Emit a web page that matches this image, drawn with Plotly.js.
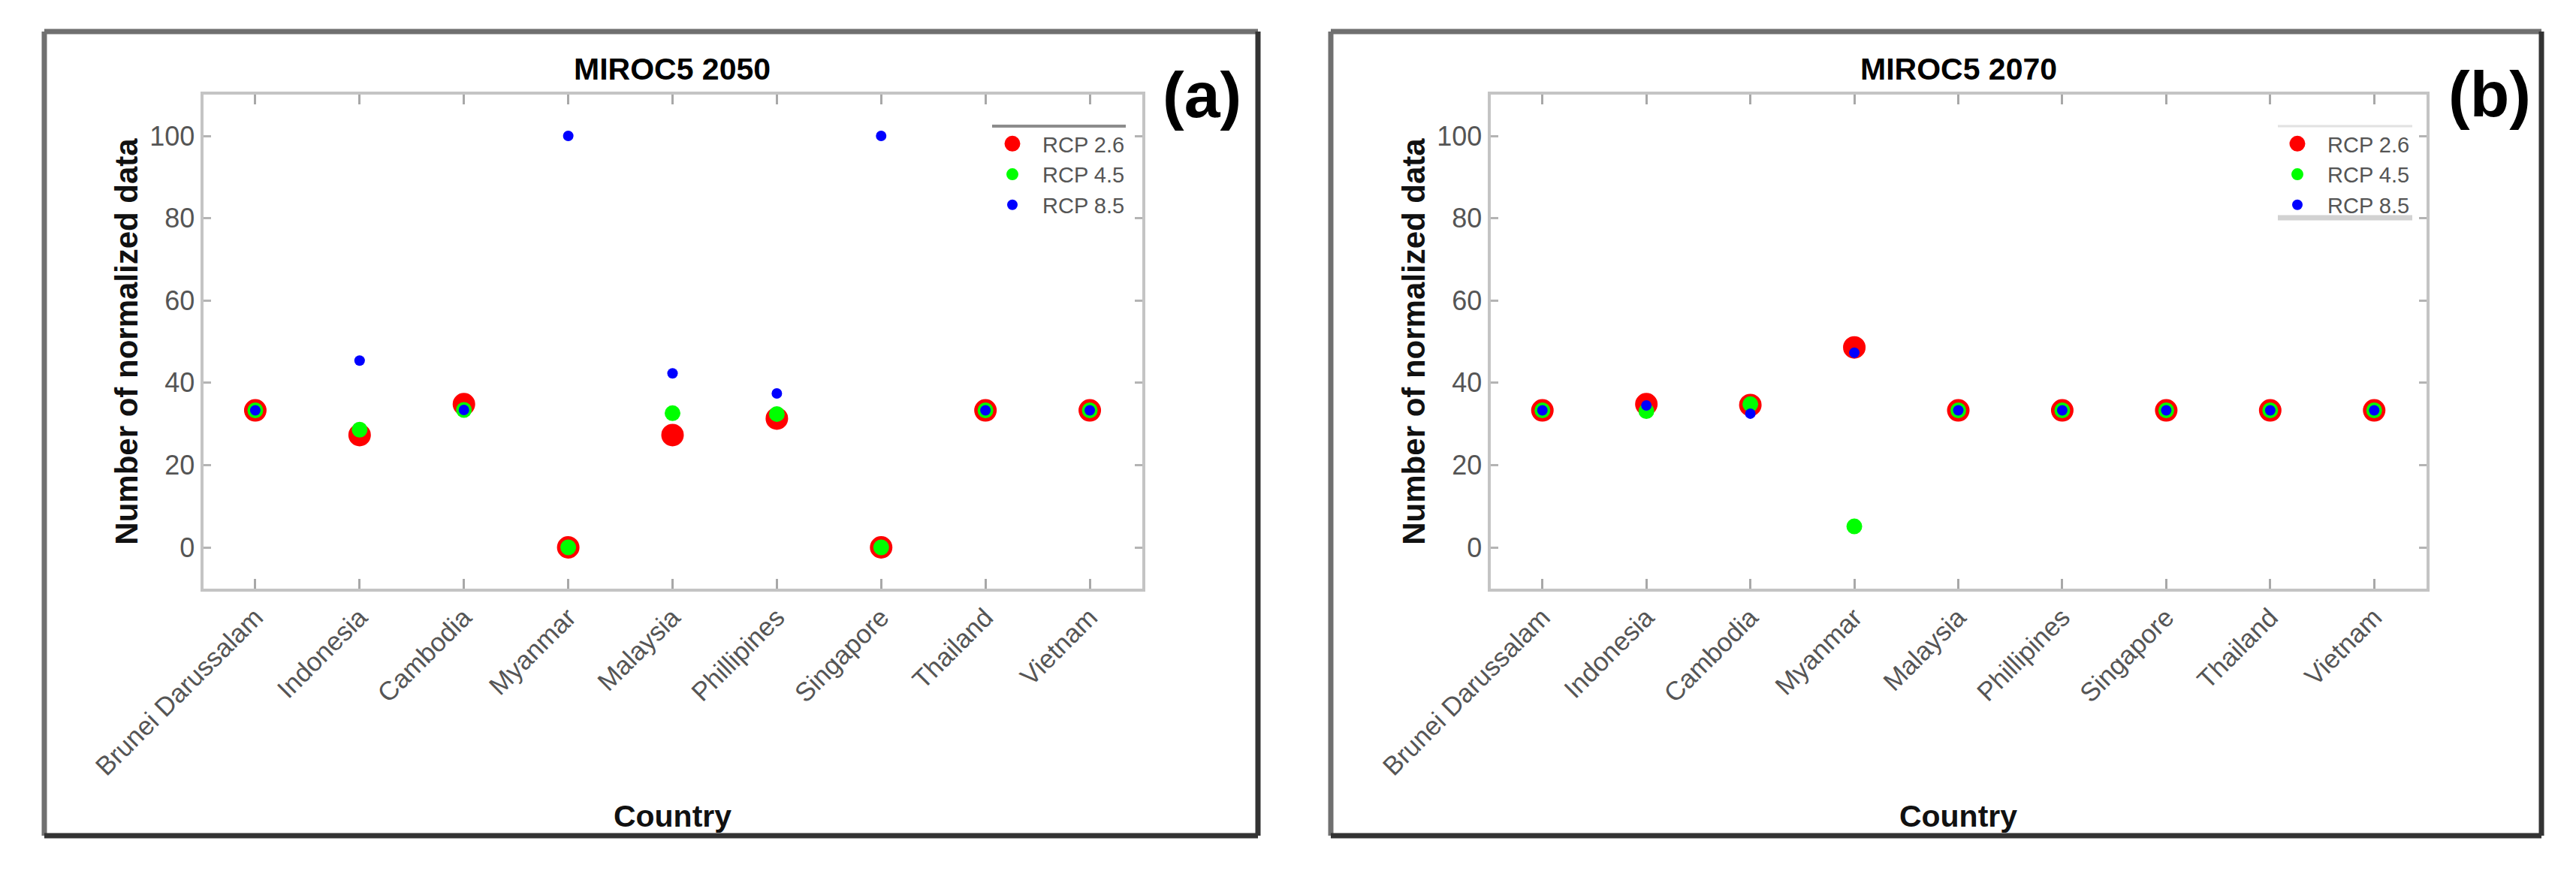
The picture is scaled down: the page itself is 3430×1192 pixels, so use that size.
<!DOCTYPE html>
<html><head><meta charset="utf-8">
<script src="https://cdn.plot.ly/plotly-3.0.1.min.js"></script>
<style>html,body{margin:0;padding:0;background:#fff;}#chart{width:3430px;height:1192px;}</style>
</head><body><div id="chart"></div>
<script>
// ---------- data ----------
const countries = ['Brunei Darussalam','Indonesia','Cambodia','Myanmar','Malaysia','Phillipines','Singapore','Thailand','Vietnam'];
const yTicks = [0, 20, 40, 60, 80, 100];
const seriesNames = ['RCP 2.6', 'RCP 4.5', 'RCP 8.5'];
const panelTitles = ['MIROC5 2050', 'MIROC5 2070'];
const panelLabels = ['(a)', '(b)'];

const rcp26_2050 = [33.3, 27.3, 34.8, 0, 27.3, 31.3, 0, 33.3, 33.3];
const rcp45_2050 = [33.3, 28.6, 33.4, 0, 32.6, 32.4, 0, 33.3, 33.3];
const rcp85_2050 = [33.3, 45.4, 33.4, 100, 42.3, 37.4, 100, 33.3, 33.3];

const rcp26_2070 = [33.3, 34.8, 34.6, 48.6, 33.3, 33.3, 33.3, 33.3, 33.3];
const rcp45_2070 = [33.3, 33.1, 34.8, 5.1, 33.3, 33.3, 33.3, 33.3, 33.3];
const rcp85_2070 = [33.3, 34.5, 32.5, 47.3, 33.3, 33.3, 33.3, 33.3, 33.3];

// ---------- style ----------
const W = 3430, H = 1192;
const FONT = '"Liberation Sans", Arial, Helvetica, sans-serif';
const colors = ['#ff0000', '#00ff00', '#0000ff'];
const sizes = [25, 21, 14];
const lineW = [5, 0, 0];
const px = v => v / W;
const py = v => 1 - v / H;

function makeTraces(vals, xa, ya, leg) {
  return vals.map((v, i) => ({
    type: 'scatter', mode: 'markers', name: seriesNames[i],
    x: countries, y: v, xaxis: xa, yaxis: ya, legend: leg,
    marker: {color: colors[i], size: sizes[i], line: {width: lineW[i], color: colors[i]}},
    hoverinfo: 'x+y+name'
  }));
}

const data = [
  ...makeTraces([rcp26_2050, rcp45_2050, rcp85_2050], 'x', 'y', 'legend'),
  ...makeTraces([rcp26_2070, rcp45_2070, rcp85_2070], 'x2', 'y2', 'legend2')
];

function xAxis(domain, anchor) {
  return {
    domain: domain, anchor: anchor, type: 'category', categoryorder: 'array', categoryarray: countries,
    range: [-0.5, 8.5], showline: true, linecolor: '#c4c4c4', linewidth: 4, mirror: 'ticks',
    ticks: 'inside', ticklen: 13, tickwidth: 3, tickcolor: '#a8a8a8', tickangle: -45,
    tickfont: {family: FONT, size: 35, color: '#555555'},
    showgrid: false, zeroline: false, fixedrange: true, automargin: false,
    title: {text: 'Country', standoff: 34, font: {family: FONT, size: 41, color: '#111111', weight: 'bold'}}
  };
}
function yAxis(domain, anchor) {
  return {
    domain: domain, anchor: anchor, range: [-10, 110], tickmode: 'array', tickvals: yTicks,
    showline: true, linecolor: '#c4c4c4', linewidth: 4, mirror: 'ticks',
    ticks: 'inside', ticklen: 10, tickwidth: 3, tickcolor: '#b4b4b4',
    tickfont: {family: FONT, size: 36, color: '#555555'},
    showgrid: false, zeroline: false, fixedrange: true, automargin: false,
    title: {text: 'Number of normalized data', standoff: 4, font: {family: FONT, size: 42, color: '#111111', weight: 'bold'}}
  };
}
const yDom = [py(783.8), py(126.2)];

function frame(l, t, r, b) {
  const dark = '#333333', light = '#707070', w = 7;
  return [
    {type: 'line', xref: 'paper', yref: 'paper', x0: px(l), x1: px(r), y0: py(t), y1: py(t), line: {color: light, width: w}},
    {type: 'line', xref: 'paper', yref: 'paper', x0: px(l), x1: px(l), y0: py(t), y1: py(b), line: {color: light, width: w}},
    {type: 'line', xref: 'paper', yref: 'paper', x0: px(r), x1: px(r), y0: py(t), y1: py(b), line: {color: dark, width: w}},
    {type: 'line', xref: 'paper', yref: 'paper', x0: px(l), x1: px(r), y0: py(b), y1: py(b), line: {color: dark, width: w}}
  ];
}
function hline(x0, x1, y, color, w) {
  return {type: 'line', xref: 'paper', yref: 'paper', x0: px(x0), x1: px(x1), y0: py(y), y1: py(y), line: {color: color, width: w}};
}

function legendCfg(xLeft) {
  return {x: px(xLeft), xanchor: 'left', y: py(166), yanchor: 'top', bgcolor: 'rgba(0,0,0,0)', borderwidth: 0,
    itemwidth: 70, font: {family: FONT, size: 29, color: '#555555'}, tracegroupgap: 0, itemclick: false, itemdoubleclick: false};
}

function ann(text, x, y, size) {
  return {text: text, xref: 'paper', yref: 'paper', x: px(x), y: py(y), xanchor: 'center', yanchor: 'middle',
    showarrow: false, font: {family: FONT, size: size, color: '#000000', weight: 'bold'}};
}

const layout = {
  width: W, height: H, margin: {l: 0, r: 0, t: 0, b: 0},
  paper_bgcolor: '#ffffff', plot_bgcolor: '#ffffff', showlegend: true,
  xaxis: xAxis([px(270.5), px(1520.5)], 'y'),
  yaxis: yAxis(yDom, 'x'),
  xaxis2: xAxis([px(1984.5), px(3230.5)], 'y2'),
  yaxis2: yAxis(yDom, 'x2'),
  legend: legendCfg(1308),
  legend2: legendCfg(3019),
  shapes: [
    ...frame(59, 42, 1675, 1113),
    ...frame(1772, 42, 3384, 1113),
    hline(1321, 1499, 168, '#8c8c8c', 4),
    hline(3033, 3212, 168, '#e2e2e2', 3),
    hline(3033, 3212, 290, '#d2d2d2', 7)
  ],
  annotations: [
    ann(panelTitles[0], 895.5, 92, 41),
    ann(panelTitles[1], 2607.5, 92, 41),
    ann(panelLabels[0], 1600, 126, 86),
    ann(panelLabels[1], 3315, 125, 86)
  ]
};

Plotly.newPlot('chart', data, layout, {displayModeBar: false, staticPlot: true});
</script>
</body></html>
